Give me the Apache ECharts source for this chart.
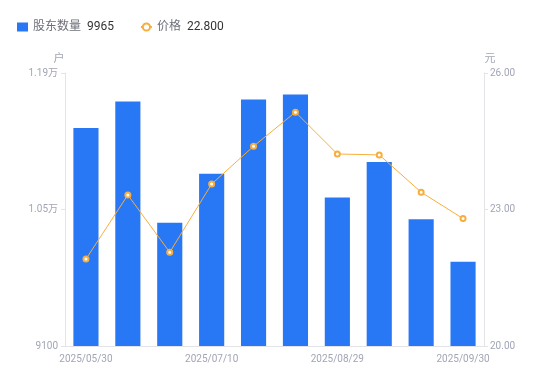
<!DOCTYPE html>
<html>
<head>
<meta charset="utf-8">
<script src="https://cdn.jsdelivr.net/npm/echarts@6/dist/echarts.min.js"></script>
<style>
    html, body { margin: 0; padding: 0; background: #fff; }
    #chart { width: 550px; height: 381px; }
</style>
</head>
<body>
<div id="chart"></div>
<script>
/* data */
const dates = ['2025/05/30', '2025/06/10', '2025/06/30', '2025/07/10', '2025/07/18',
    '2025/07/31', '2025/08/29', '2025/09/10', '2025/09/19', '2025/09/30'];
const holders = [11335, 11608, 10363, 10866, 11629, 11680, 10623, 10986, 10401, 9965];
const prices = [21.91, 23.32, 22.06, 23.56, 24.39, 25.14, 24.22, 24.20, 23.38, 22.80];
const holderTicks = [9100, 10500, 11900];
const priceTicks = [20, 23, 26];

const axisGray = '#a2a5b5';
const lineGray = '#e4e4e8';

function fmtHolders(v) {
    return v >= 10000 ? (v / 10000).toFixed(2) + '万' : String(v);
}

const chart = echarts.init(document.getElementById('chart'), null, { renderer: 'canvas' });
chart.setOption({
    animation: false,
    textStyle: { fontFamily: 'Roboto, "Noto Sans CJK SC", sans-serif' },
    legend: {
        left: 12,
        top: 16,
        itemWidth: 11,
        itemHeight: 9,
        itemGap: 26,
        data: [{ name: '股东数量', icon: 'rect' }, { name: '价格' }],
        formatter: name => {
            const v = name === '股东数量'
                ? String(holders[holders.length - 1])
                : prices[prices.length - 1].toFixed(3);
            return '{n|' + name + '}  {v|' + v + '}';
        },
        textStyle: {
            rich: {
                n: { color: '#6e7079', fontSize: 12 },
                v: { color: '#333', fontSize: 12 },
            },
        },
    },
    grid: { left: 65, right: 66, top: 73, bottom: 35 },
    xAxis: {
        type: 'category',
        data: dates,
        axisLine: { lineStyle: { color: lineGray } },
        axisTick: { show: false },
        axisLabel: { interval: 2, color: axisGray, fontSize: 10, margin: 8 },
    },
    yAxis: [
        {
            type: 'value',
            name: '户',
            nameGap: 8,
            nameTextStyle: { color: axisGray, fontSize: 11, padding: [0, 12, 0, 0] },
            min: 9100,
            max: 11900,
            axisLine: { show: true, lineStyle: { color: lineGray } },
            axisTick: { show: true, length: 4, customValues: holderTicks, lineStyle: { color: lineGray } },
            axisLabel: { customValues: holderTicks, color: axisGray, fontSize: 10, margin: 7, formatter: fmtHolders },
            splitLine: { show: false },
        },
        {
            type: 'value',
            name: '元',
            nameGap: 8,
            nameTextStyle: { color: axisGray, fontSize: 11, padding: [0, 0, 0, 12] },
            min: 20,
            max: 26,
            axisLine: { show: true, lineStyle: { color: lineGray } },
            axisTick: { show: true, length: 4, customValues: priceTicks, lineStyle: { color: lineGray } },
            axisLabel: { customValues: priceTicks, color: axisGray, fontSize: 10, margin: 6, formatter: v => v.toFixed(2) },
            splitLine: { show: false },
        },
    ],
    series: [
        {
            name: '股东数量',
            type: 'bar',
            yAxisIndex: 0,
            barWidth: '60%',
            data: holders,
            itemStyle: { color: '#2878f5' },
        },
        {
            name: '价格',
            type: 'line',
            yAxisIndex: 1,
            data: prices,
            symbol: 'emptyCircle',
            symbolSize: 5,
            lineStyle: { width: 1, color: '#f8ae3c' },
            itemStyle: { color: '#f8ae3c', borderWidth: 1.5 },
        },
    ],
});
</script>
</body>
</html>
